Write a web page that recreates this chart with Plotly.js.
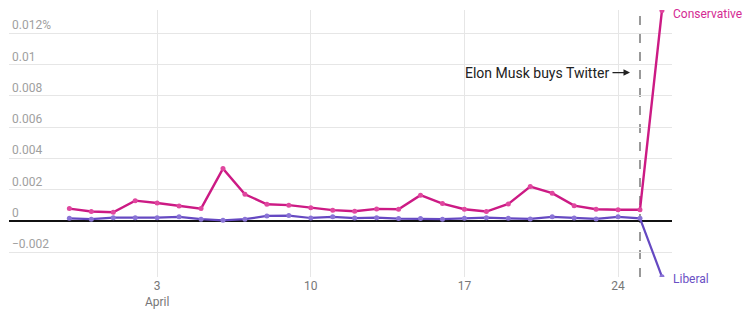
<!DOCTYPE html>
<html>
<head>
<meta charset="utf-8">
<script src="https://cdn.plot.ly/plotly-3.0.1.min.js"></script>
<style>html,body{margin:0;padding:0;background:#fff;}#chart{width:748px;height:327px;}</style>
</head>
<body>
<div id="chart"></div>
<script>
const dates = ["2022-03-30","2022-03-31","2022-04-01","2022-04-02","2022-04-03","2022-04-04","2022-04-05",
  "2022-04-06","2022-04-07","2022-04-08","2022-04-09","2022-04-10","2022-04-11","2022-04-12",
  "2022-04-13","2022-04-14","2022-04-15","2022-04-16","2022-04-17","2022-04-18","2022-04-19",
  "2022-04-20","2022-04-21","2022-04-22","2022-04-23","2022-04-24","2022-04-25","2022-04-26"];
const conservative = [0.00079,0.00060,0.00056,0.00130,0.00115,0.00096,0.00079,
  0.00335,0.00171,0.00107,0.00101,0.00085,0.00069,0.00062,
  0.00077,0.00075,0.00165,0.00111,0.00075,0.00060,0.00109,
  0.00220,0.00178,0.00098,0.00075,0.00072,0.00072,0.01347];
const liberal = [0.00017,0.00011,0.00021,0.00021,0.00021,0.00026,0.00011,
  0.00004,0.00011,0.00032,0.00034,0.00019,0.00026,0.00018,
  0.00021,0.00015,0.00015,0.00011,0.00017,0.00021,0.00017,
  0.00013,0.00026,0.00019,0.00013,0.00026,0.00017,-0.00357];
const yTickVals = [-0.002,0,0.002,0.004,0.006,0.008,0.01,0.012];
const yTickText = ["\u22120.002","0","0.002","0.004","0.006","0.008","0.01","0.012%"];
const xTickVals = ["2022-04-03","2022-04-10","2022-04-17","2022-04-24"];
const xTickText = ["3<br>April","10","17","24"];
const eventDate = "2022-04-25";
const eventLabel = "Elon Musk buys Twitter";
const seriesNames = ["Conservative","Liberal"];

const consColor = "#cc1a84", consMarker = "#e0479f", consLabel = "#d42a93";
const libColor = "#6549c2", libMarker = "#8a74d6", libLabel = "#6a50c4";

const traces = [
  {x: dates, y: liberal, mode: "lines+markers", name: seriesNames[1],
   line: {color: libColor, width: 2.2}, marker: {color: libMarker, size: 5}, hoverinfo: "skip"},
  {x: dates, y: conservative, mode: "lines+markers", name: seriesNames[0],
   line: {color: consColor, width: 2.4}, marker: {color: consMarker, size: 5}, hoverinfo: "skip"}
];
const last = dates.length - 1;
const layout = {
  width: 748, height: 327,
  margin: {l: 9, r: 76, t: 10, b: 50},
  paper_bgcolor: "#fff", plot_bgcolor: "#fff",
  showlegend: false,
  font: {family: "Roboto, sans-serif", size: 12, color: "#999"},
  xaxis: {
    type: "date",
    range: ["2022-03-27 06:00", "2022-04-26 11:00"],
    tickvals: xTickVals, ticktext: xTickText,
    showgrid: true, gridcolor: "#e6e6e6", gridwidth: 1,
    zeroline: false, showline: false, ticks: "",
    tickfont: {size: 12, color: "#777"}
  },
  yaxis: {
    range: [-0.00359, 0.013506],
    tickvals: yTickVals, ticktext: yTickText,
    ticklabelposition: "inside top",
    showgrid: true, gridcolor: "#e6e6e6", gridwidth: 1,
    zeroline: true, zerolinecolor: "#111", zerolinewidth: 1.5,
    showline: false, ticks: "",
    tickfont: {size: 12, color: "#a0a0a0"}
  },
  shapes: [{
    type: "line", xref: "x", yref: "paper", x0: eventDate, x1: eventDate, y0: 0, y1: 0.99,
    line: {color: "#999", width: 2, dash: "dash"}, layer: "below"
  }],
  annotations: [
    {x: eventDate, y: 0.0095, xref: "x", yref: "y", text: eventLabel,
     showarrow: true, ax: -93, ay: 0, xshift: -10, borderpad: 3, arrowhead: 2, arrowsize: 1, arrowwidth: 1.3,
     arrowcolor: "#222", font: {size: 14, color: "#222"}},
    {x: dates[last], y: conservative[last], xref: "x", yref: "y", text: seriesNames[0],
     showarrow: false, xanchor: "left", xshift: 9, yshift: -3,
     font: {size: 12, color: consLabel}},
    {x: dates[last], y: liberal[last], xref: "x", yref: "y", text: seriesNames[1],
     showarrow: false, xanchor: "left", xshift: 9, yshift: -2,
     font: {size: 12, color: libLabel}}
  ]
};
Plotly.newPlot("chart", traces, layout, {displayModeBar: false, staticPlot: true});
</script>
</body>
</html>
